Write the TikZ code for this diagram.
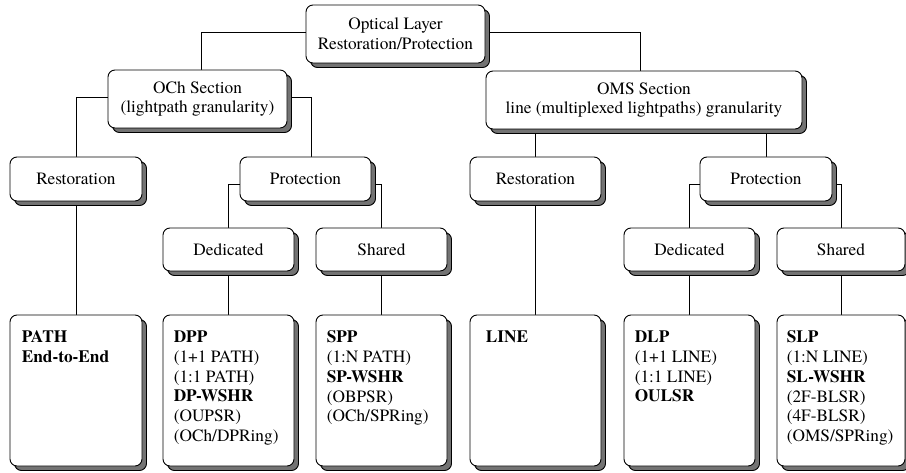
\documentclass[tikz,border=0pt]{standalone}
\usepackage{fontspec}
\setmainfont{TeX Gyre Termes}
\usetikzlibrary{shadows,backgrounds}
\begin{document}
\begin{tikzpicture}[x=1pt,y=-1pt,
  box/.style={draw=black, line width=0.9pt, fill=white, rounded corners=7pt,
    inner sep=0pt, align=center,
    font=\fontsize{17.3}{19.8}\selectfont,
    general shadow={shadow xshift=4.5pt, shadow yshift=-4.5pt, fill=black!55, draw=black, line width=0.9pt}},
  leaftext/.style={anchor=north west, inner sep=0pt, align=left,
    font=\fontsize{17.3}{19.8}\selectfont},
  conn/.style={draw=black, line width=0.9pt}]
\useasboundingbox (0,0) rectangle (906,473);

% level 0
\node[box, minimum width=179, minimum height=58] (top) at (395.5,34) {Optical Layer\\Restoration/Protection};
% level 1
\node[box, minimum width=179, minimum height=58] (och) at (197.5,99) {OCh Section\\(lightpath granularity)};
\node[box, minimum width=316, minimum height=58] (oms) at (644,100) {OMS Section\\line (multiplexed lightpaths) granularity};
% level 2
\node[box, minimum width=132, minimum height=44] (resL) at (76,179) {Restoration};
\node[box, minimum width=131, minimum height=44] (protL) at (305.5,179) {Protection};
\node[box, minimum width=131, minimum height=44] (resR) at (535.5,179) {Restoration};
\node[box, minimum width=132, minimum height=44] (protR) at (766,179) {Protection};
% level 3
\node[box, minimum width=131, minimum height=43] (dedL) at (228.5,249.5) {Dedicated};
\node[box, minimum width=131, minimum height=43] (shL) at (381.5,249.5) {Shared};
\node[box, minimum width=131, minimum height=43] (dedR) at (689.5,249.5) {Dedicated};
\node[box, minimum width=128, minimum height=43] (shR) at (841,249.5) {Shared};
% leaves
\node[box, minimum width=132, minimum height=151] (leafA) at (76,390.5) {};
\node[box, minimum width=131, minimum height=151] (leafB) at (228.5,390.5) {};
\node[box, minimum width=131, minimum height=151] (leafC) at (381.5,390.5) {};
\node[box, minimum width=131, minimum height=151] (leafD) at (535.5,390.5) {};
\node[box, minimum width=131, minimum height=151] (leafE) at (689.5,390.5) {};
\node[box, minimum width=128, minimum height=151] (leafF) at (841,390.5) {};

\node[leaftext] (tA) at ([xshift=12pt,yshift=-16pt]leafA.north west) {\textbf{PATH}\\\textbf{End-to-End}};
\node[leaftext] (tB) at ([xshift=11pt,yshift=-16pt]leafB.north west) {\textbf{DPP}\\(1+1 PATH)\\(1:1 PATH)\\\textbf{DP-WSHR}\\(OUPSR)\\(OCh/DPRing)};
\node[leaftext] (tC) at ([xshift=11pt,yshift=-16pt]leafC.north west) {\textbf{SPP}\\(1:N PATH)\\\textbf{SP-WSHR}\\(OBPSR)\\(OCh/SPRing)};
\node[leaftext] (tD) at ([xshift=16pt,yshift=-16pt]leafD.north west) {\textbf{LINE}};
\node[leaftext] (tE) at ([xshift=11pt,yshift=-16pt]leafE.north west) {\textbf{DLP}\\(1+1 LINE)\\(1:1 LINE)\\\textbf{OULSR}};
\node[leaftext] (tF) at ([xshift=10pt,yshift=-16pt]leafF.north west) {\textbf{SLP}\\(1:N LINE)\\\textbf{SL-WSHR}\\(2F-BLSR)\\(4F-BLSR)\\(OMS/SPRing)};

\begin{scope}[on background layer]
\draw[conn] ([yshift=2pt]top.west) -| ([xshift=3.5pt]och.north);
\draw[conn] ([yshift=2pt]top.east) -| ([xshift=-4pt]oms.north);
\draw[conn] ([yshift=2pt]och.west) -| (resL.north);
\draw[conn] ([yshift=2pt]och.east) -| ([xshift=5.5pt]protL.north);
\draw[conn] (resR.north |- oms.south) -- (resR.north);
\draw[conn] (protR.north |- oms.south) -- (protR.north);
\draw[conn] ([yshift=-5pt]protL.west) -| (dedL.north);
\draw[conn] ([yshift=-5pt]protL.east) -| (shL.north);
\draw[conn] ([yshift=-5pt]protR.west) -| (dedR.north);
\draw[conn] ([yshift=-5pt]protR.east) -| (shR.north);
\draw[conn] (resL.south) -- (leafA.north);
\draw[conn] (dedL.south) -- (leafB.north);
\draw[conn] (shL.south) -- (leafC.north);
\draw[conn] (resR.south) -- (leafD.north);
\draw[conn] (dedR.south) -- (leafE.north);
\draw[conn] (shR.south) -- (leafF.north);
\end{scope}
\end{tikzpicture}
\end{document}
